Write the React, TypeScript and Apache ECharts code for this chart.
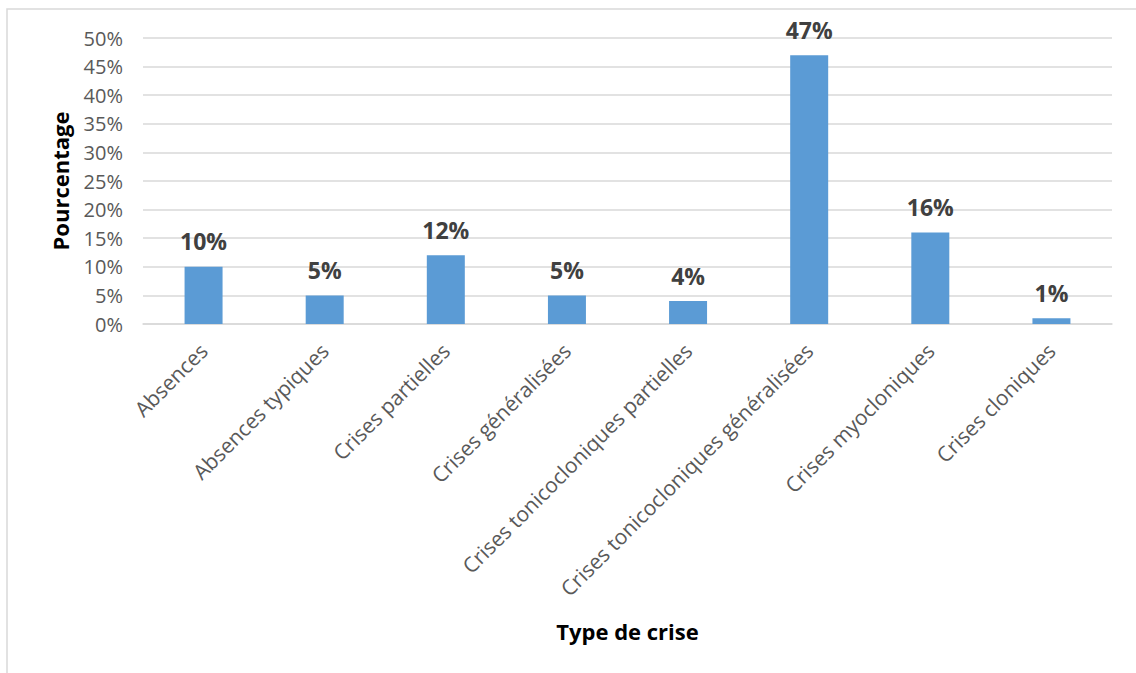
import React, { useEffect, useRef } from "react";
import * as echarts from "echarts";

const categories = [
  "Absences",
  "Absences typiques",
  "Crises partielles",
  "Crises généralisées",
  "Crises tonicocloniques partielles",
  "Crises tonicocloniques généralisées",
  "Crises myocloniques",
  "Crises cloniques",
];
const values = [10, 5, 12, 5, 4, 47, 16, 1];
const yTicks = { min: 0, max: 50, interval: 5 };

export default function App() {
  const ref = useRef<HTMLDivElement>(null);
  useEffect(() => {
    if (!ref.current) return;
    const chart = echarts.init(ref.current, null, { renderer: "svg" });
    chart.setOption({
      animation: false,
      backgroundColor: "#ffffff",
      textStyle: { fontFamily: "Open Sans" },
      graphic: [
        {
          type: "rect",
          shape: { x: 7, y: 9, width: 1140, height: 680 },
          style: { fill: "none", stroke: "#d9d9d9", lineWidth: 1.5 },
          silent: true,
        },
      ],
      grid: { left: 143, right: 24, top: 38, bottom: 349, containLabel: false },
      xAxis: {
        type: "category",
        data: categories,
        axisLine: { show: true, lineStyle: { color: "#d9d9d9", width: 1.5 } },
        axisTick: { show: false },
        axisLabel: {
          rotate: 45,
          interval: 0,
          margin: 23,
          color: "#595959",
          fontSize: 21,
          fontFamily: "Open Sans",
        },
        name: "Type de crise",
        nameLocation: "middle",
        nameGap: 0,
        nameTextStyle: {
          color: "#000000",
          fontWeight: "bold",
          fontSize: 22,
          fontFamily: "Open Sans",
          padding: [296, 0, 0, 0],
        },
      },
      yAxis: {
        type: "value",
        min: yTicks.min,
        max: yTicks.max,
        interval: yTicks.interval,
        axisLine: { show: false },
        axisTick: { show: false },
        splitLine: { lineStyle: { color: "#d9d9d9", width: 1.5 } },
        axisLabel: {
          formatter: "{value}%",
          color: "#595959",
          fontSize: 20,
          margin: 20,
          fontFamily: "Open Sans",
        },
        name: "Pourcentage",
        nameLocation: "middle",
        nameGap: 72,
        nameTextStyle: {
          color: "#000000",
          fontWeight: "bold",
          fontSize: 22,
          fontFamily: "Open Sans",
        },
      },
      series: [
        {
          type: "bar",
          data: values,
          barWidth: 38,
          itemStyle: { color: "#5B9BD5" },
          label: {
            show: true,
            position: "top",
            distance: 14,
            formatter: "{c}%",
            color: "#404040",
            fontWeight: "bold",
            fontSize: 23,
            fontFamily: "Open Sans",
          },
        },
      ],
    });
    return () => chart.dispose();
  }, []);
  return <div ref={ref} style={{ width: 1136, height: 673, position: "absolute", left: 0, top: 0 }} />;
}
